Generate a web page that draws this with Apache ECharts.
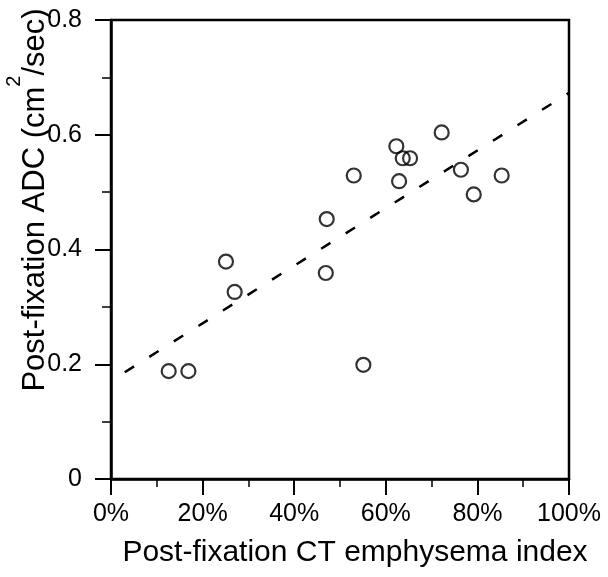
<!DOCTYPE html>
<html>
<head>
<meta charset="utf-8">
<script src="https://cdn.jsdelivr.net/npm/echarts@6/dist/echarts.min.js"></script>
<style>html,body{margin:0;padding:0;background:#fff}#c{width:608px;height:577px}</style>
</head>
<body>
<div id="c"></div>
<script>
// Data (x: CT emphysema index %, y: ADC cm^2/sec)
const ctIndex = [12.6, 16.9, 25.1, 27.0, 46.9, 47.1, 53.0, 55.1, 62.3, 62.9, 63.7, 65.3, 72.2, 76.4, 79.2, 85.3];
const adc     = [0.188, 0.188, 0.379, 0.326, 0.359, 0.453, 0.529, 0.199, 0.580, 0.519, 0.559, 0.559, 0.604, 0.539, 0.496, 0.529];
const fitX = [3, 100];
const fitY = [0.186, 0.673];
const xTickLabels = ['0%', '20%', '40%', '60%', '80%', '100%'];
const yTickLabels = ['0', '0.2', '0.4', '0.6', '0.8'];
const xTitle = 'Post-fixation CT emphysema index';
const yTitleA = 'Post-fixation ADC (cm';
const yTitleSup = '2';
const yTitleB = '/sec)';

const FONT = '"Liberation Sans", Arial, sans-serif';
const chart = echarts.init(document.getElementById('c'), null, {renderer: 'canvas'});

const mctx = document.createElement('canvas').getContext('2d');
function mw(t, size) { mctx.font = size + 'px "Liberation Sans"'; return mctx.measureText(t).width; }
const TS = 31;
const wA = mw(yTitleA, TS), wS = mw(yTitleSup, 20), wB = mw(yTitleB, TS);
const wTot = wA + wS + wB;
const yTitleCenter = 200;

const scatterData = ctIndex.map((v, i) => [v, adc[i]]);
const fitData = fitX.map((v, i) => [v, fitY[i]]);

chart.setOption({
  animation: false,
  backgroundColor: '#fff',
  grid: {left: 111, top: 20, width: 458, height: 459, show: true, borderColor: '#000', borderWidth: 2.5, backgroundColor: 'transparent'},
  xAxis: {
    type: 'value', min: 0, max: 100, interval: 20,
    axisLine: {show: true, onZero: false, lineStyle: {color: '#000', width: 2.5}},
    axisTick: {show: true, inside: false, length: 16, lineStyle: {color: '#000', width: 2}},
    minorTick: {show: true, splitNumber: 2, length: 8, lineStyle: {color: '#000', width: 1.5}},
    splitLine: {show: false},
    axisLabel: {margin: 23, color: '#000', fontSize: 25, fontFamily: FONT,
      formatter: v => xTickLabels[Math.round(v / 20)]}
  },
  yAxis: {
    type: 'value', min: 0, max: 0.8, interval: 0.2,
    axisLine: {show: true, onZero: false, lineStyle: {color: '#000', width: 2.5}},
    axisTick: {show: true, inside: false, length: 16, lineStyle: {color: '#000', width: 2}},
    minorTick: {show: true, splitNumber: 2, length: 9, lineStyle: {color: '#000', width: 1.5}},
    splitLine: {show: false},
    axisLabel: {margin: 29, color: '#000', fontSize: 25, fontFamily: FONT,
      formatter: v => yTickLabels[Math.round(v / 0.2)]}
  },
  series: [
    {
      type: 'line', data: fitData, showSymbol: false, symbol: 'none',
      lineStyle: {color: '#000', width: 2.5, type: [11, 18]}, z: 2
    },
    {
      type: 'scatter', data: scatterData, symbol: 'circle', symbolSize: 14,
      itemStyle: {color: 'rgba(255,255,255,0)', borderColor: '#000', borderWidth: 2.2}, z: 3
    }
  ],
  graphic: [
    {type: 'text', left: 355 - mw(xTitle, 30) / 2, top: 538,
      style: {text: xTitle, font: '30px ' + FONT, fill: '#000'}},
    {type: 'group', x: 35, y: yTitleCenter, rotation: Math.PI / 2,
      children: [
        {type: 'text', x: -wTot / 2, y: 0, style: {text: yTitleA, font: TS + 'px ' + FONT, fill: '#000', verticalAlign: 'middle', align: 'left'}},
        {type: 'text', x: -wTot / 2 + wA, y: -21, style: {text: yTitleSup, font: '20px ' + FONT, fill: '#000', verticalAlign: 'middle', align: 'left'}},
        {type: 'text', x: -wTot / 2 + wA + wS, y: 0, style: {text: yTitleB, font: TS + 'px ' + FONT, fill: '#000', verticalAlign: 'middle', align: 'left'}}
      ]}
  ]
});
</script>
</body>
</html>
